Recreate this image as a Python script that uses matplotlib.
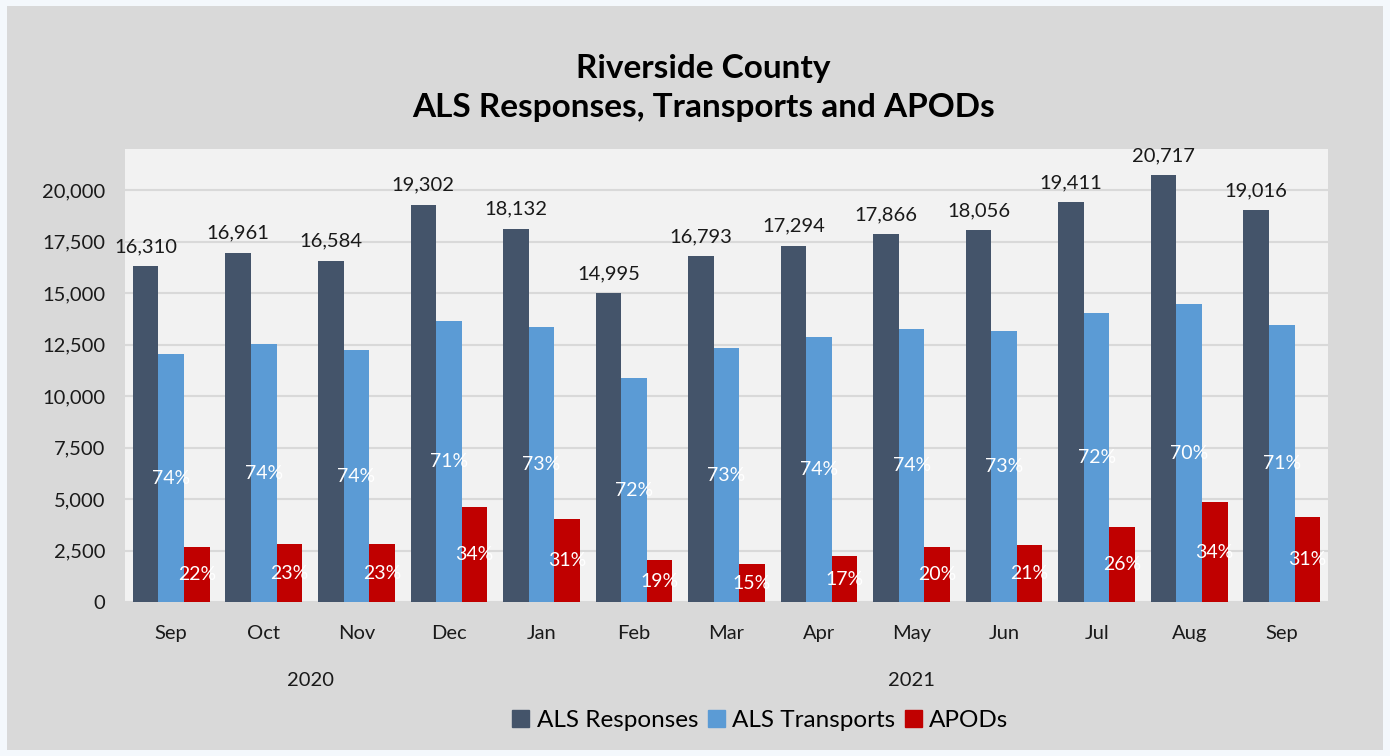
import matplotlib.pyplot as plt
from matplotlib.patches import Patch, Rectangle
from matplotlib.ticker import FuncFormatter
import numpy as np

plt.rcParams['font.family'] = ['Lato', 'DejaVu Sans']

months = ["Sep", "Oct", "Nov", "Dec", "Jan", "Feb", "Mar", "Apr", "May", "Jun", "Jul", "Aug", "Sep"]
years = ["2020", "2021"]
year_spans = [(0, 3), (4, 12)]

responses = [16310, 16961, 16584, 19302, 18132, 14995, 16793, 17294, 17866, 18056, 19411, 20717, 19016]
transports = [12050, 12550, 12245, 13655, 13345, 10885, 12355, 12855, 13280, 13170, 14025, 14460, 13460]
apods = [2670, 2835, 2835, 4615, 4065, 2040, 1860, 2235, 2670, 2770, 3645, 4875, 4130]
transport_pct = ["74%", "74%", "74%", "71%", "73%", "72%", "73%", "74%", "74%", "73%", "72%", "70%", "71%"]
apod_pct = ["22%", "23%", "23%", "34%", "31%", "19%", "15%", "17%", "20%", "21%", "26%", "34%", "31%"]

c_resp = "#44546a"
c_trans = "#5b9bd5"
c_apod = "#c00000"

fig = plt.figure(figsize=(13.9, 7.56), dpi=100, facecolor="#f4f8fc")
fig.patches.append(Rectangle((0.005, 0.008), 0.99, 0.984, transform=fig.transFigure,
                             facecolor="#d9d9d9", edgecolor="none", zorder=-1))
ax = fig.add_axes([0.0899, 0.2033, 0.8655, 0.5996])
ax.set_facecolor("#f2f2f2")

x = np.arange(len(months))
w = 0.276
b1 = ax.bar(x - w, responses, w, color=c_resp, zorder=3)
b2 = ax.bar(x, transports, w, color=c_trans, zorder=3)
b3 = ax.bar(x + w, apods, w, color=c_apod, zorder=3)

ax.bar_label(b1, labels=[f"{v:,}" for v in responses], padding=8, fontsize=14.5, color="#1a1a1a")
ax.bar_label(b2, labels=transport_pct, label_type="center", fontsize=14, color="white")
ax.bar_label(b3, labels=apod_pct, label_type="center", fontsize=14, color="white")

ax.set_xlim(-0.5, len(months) - 0.5)
ax.set_ylim(0, 22000)
ax.set_yticks(np.arange(0, 20001, 2500))
ax.yaxis.set_major_formatter(FuncFormatter(lambda v, p: f"{int(v):,}"))
ax.set_xticks(x)
ax.set_xticklabels(months)
ax.tick_params(axis="x", length=0, pad=16, labelsize=14.5, labelcolor="#1a1a1a")
ax.tick_params(axis="y", length=0, pad=14, labelsize=14.5, labelcolor="#1a1a1a")
ax.grid(axis="y", color="#d9d9d9", linewidth=1.5, zorder=0)
for s in ax.spines.values():
    s.set_visible(False)

for yr, (a, b) in zip(years, year_spans):
    ax.text((a + b) / 2, -0.172, yr, transform=ax.get_xaxis_transform(),
            ha="center", va="center", fontsize=14.5, color="#1a1a1a")

fig.text(0.506, 0.884, "Riverside County\nALS Responses, Transports and APODs",
         ha="center", va="center", fontsize=24, fontweight="bold", linespacing=1.42)

handles = [Patch(color=c_resp), Patch(color=c_trans), Patch(color=c_apod)]
fig.legend(handles, ["ALS Responses", "ALS Transports", "APODs"], loc="center",
           bbox_to_anchor=(0.547, 0.047), ncol=3, frameon=False, fontsize=17.5,
           handlelength=0.7, handleheight=0.7, handletextpad=0.3, columnspacing=0.4)

fig.savefig("out.png", dpi=100, facecolor=fig.get_facecolor())
